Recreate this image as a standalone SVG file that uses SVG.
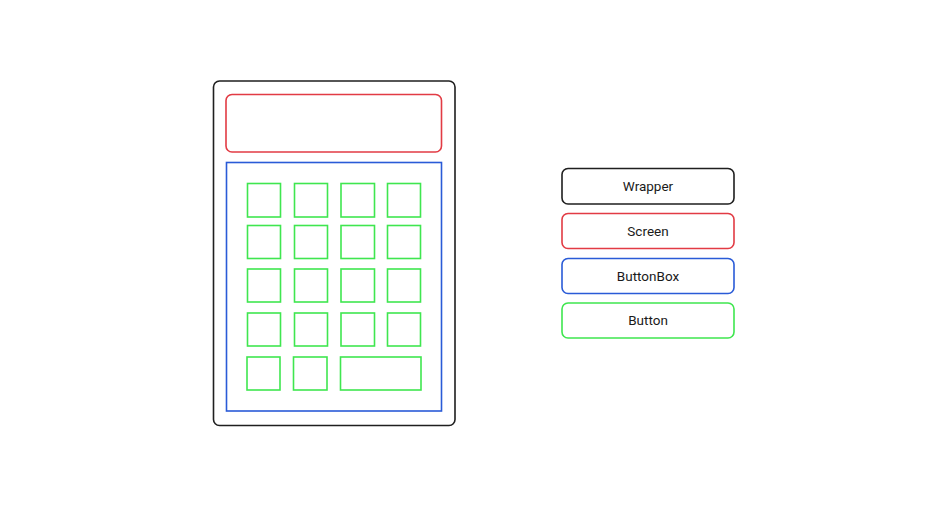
<svg xmlns="http://www.w3.org/2000/svg" width="950" height="515" viewBox="0 0 950 515">
  <style>
    .wrap { fill: none; stroke: #1f1f1f; stroke-width: 1.6; }
    .screen { fill: none; stroke: #e23b44; stroke-width: 1.6; }
    .box { fill: none; stroke: #2a5bd7; stroke-width: 1.6; }
    .btn { fill: none; stroke: #3fe64f; stroke-width: 1.6; }
    .label { font-family: Roboto, "Liberation Sans", sans-serif; font-size: 13.5px; fill: #1a1a1a; text-anchor: middle; }
  </style>
  <rect width="950" height="515" fill="#ffffff"/>

  <!-- calculator layout -->
  <g id="wrapper">
    <rect class="wrap" x="213.5" y="81" width="241.5" height="344.5" rx="6"/>
  </g>
  <g id="screen">
    <rect class="screen" x="226" y="94.5" width="215.5" height="57.5" rx="6"/>
  </g>
  <g id="buttonbox">
    <rect class="box" x="226.5" y="162.5" width="215" height="248.5"/>
  </g>
  <g id="buttons">
    <rect class="btn" x="247.5" y="183.5" width="33" height="33.5"/>
    <rect class="btn" x="294.5" y="183.5" width="33" height="33.5"/>
    <rect class="btn" x="341" y="183.5" width="33.5" height="33.5"/>
    <rect class="btn" x="387.5" y="183.5" width="33" height="33.5"/>

    <rect class="btn" x="247.5" y="225.5" width="33" height="33"/>
    <rect class="btn" x="294.5" y="225.5" width="33" height="33"/>
    <rect class="btn" x="341" y="225.5" width="33.5" height="33"/>
    <rect class="btn" x="387.5" y="225.5" width="33" height="33"/>

    <rect class="btn" x="247.5" y="269" width="33" height="33"/>
    <rect class="btn" x="294.5" y="269" width="33" height="33"/>
    <rect class="btn" x="341" y="269" width="33.5" height="33"/>
    <rect class="btn" x="387.5" y="269" width="33" height="33"/>

    <rect class="btn" x="247.5" y="313" width="33" height="33"/>
    <rect class="btn" x="294.5" y="313" width="33" height="33"/>
    <rect class="btn" x="341" y="313" width="33.5" height="33"/>
    <rect class="btn" x="387.5" y="313" width="33" height="33"/>

    <rect class="btn" x="247" y="357" width="33" height="33"/>
    <rect class="btn" x="293.5" y="357" width="33.5" height="33"/>
    <rect class="btn" x="340.5" y="357" width="80.5" height="33"/>
  </g>

  <!-- legend -->
  <g id="legend-wrapper">
    <rect class="wrap" x="562" y="168.5" width="172" height="35.5" rx="6"/>
    <text class="label" x="648" y="191">Wrapper</text>
  </g>
  <g id="legend-screen">
    <rect class="screen" x="562" y="213.5" width="172" height="35" rx="6"/>
    <text class="label" x="648" y="235.5">Screen</text>
  </g>
  <g id="legend-buttonbox">
    <rect class="box" x="562" y="258.5" width="172" height="35" rx="6"/>
    <text class="label" x="648" y="280.5">ButtonBox</text>
  </g>
  <g id="legend-button">
    <rect class="btn" x="562" y="303" width="172" height="35" rx="6"/>
    <text class="label" x="648" y="325">Button</text>
  </g>
</svg>
